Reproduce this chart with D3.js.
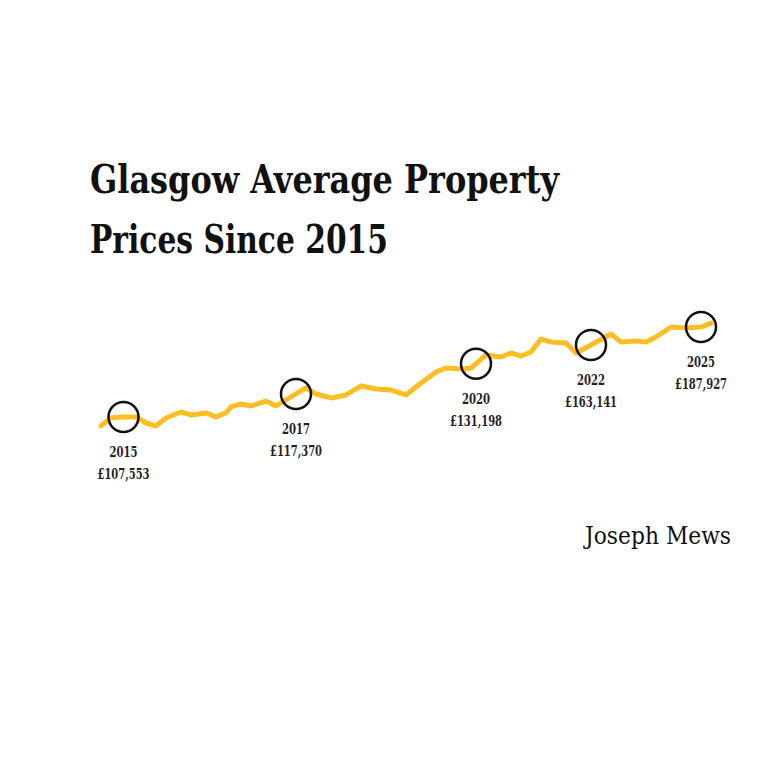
<!DOCTYPE html><html><head><meta charset="utf-8"><script src="https://cdn.jsdelivr.net/npm/d3@7"></script>
<style>body{margin:0;background:#fff}</style></head><body><svg id="c" width="768" height="768"></svg>
<script>
const months=[0,2,4,7,9,11,13,16,18,21,23,25,26,28,30,33,35,37,41,43,46,49,52,55,58,61,64,67,69,72,74,77,80,82,84,86,88,90,93,95,98,102,104,107,109,111,114,117,120,122];
const prices=[99900,106700,107550,107550,102400,99900,106700,111800,109300,111000,107600,111000,116100,118700,117000,121200,117000,122100,132400,127200,123800,126400,134100,131500,130600,126400,136600,146000,149400,148600,149400,160600,158900,162300,159700,163100,174200,171700,170800,162300,169100,178500,171700,172500,171700,176000,184500,183600,184500,187900];
const markYears=["2015","2017","2020","2022","2025"];
const markMonths=[4.5,39,75,98,120];
const markLabels=["£107,553","£117,370","£131,198","£163,141","£187,927"];
const svg=d3.select("#c");
const x=d3.scaleLinear().domain([0,122]).range([101,711]);
const y=d3.scaleLinear().domain([100000,190000]).range([425.8,320.6]);
const font="'DejaVu Serif',serif";
svg.append("text").attr("x",90).attr("y",193).attr("font-family",font).attr("font-weight","bold").attr("font-size",40).attr("textLength",469).attr("lengthAdjust","spacingAndGlyphs").attr("fill","#111").text("Glasgow Average Property");
svg.append("text").attr("x",90).attr("y",253).attr("font-family",font).attr("font-weight","bold").attr("font-size",40).attr("textLength",298).attr("lengthAdjust","spacingAndGlyphs").attr("fill","#111").text("Prices Since 2015");
const data=months.map((m,i)=>({m,v:prices[i]}));
svg.append("path").datum(data).attr("fill","none").attr("stroke","#fbbf24").attr("stroke-width",5).attr("stroke-linejoin","round").attr("stroke-linecap","round")
 .attr("d",d3.line().x(d=>x(d.m)).y(d=>y(d.v)));
const interp=m=>{const i=d3.bisector(d=>d.m).left(data,m);if(i<=0)return data[0].v;const a=data[i-1],b=data[i];return a.v+(b.v-a.v)*(m-a.m)/(b.m-a.m);};
markMonths.forEach((m,i)=>{
 const cx=x(m),cy=y(interp(m));
 svg.append("circle").attr("cx",cx).attr("cy",cy).attr("r",15).attr("fill","none").attr("stroke","#111").attr("stroke-width",2.5);
 svg.append("text").attr("x",cx).attr("y",cy+40).attr("text-anchor","middle").attr("font-family",font).attr("font-weight","bold").attr("font-size",14).attr("textLength",28).attr("lengthAdjust","spacingAndGlyphs").attr("fill","#222").text(markYears[i]);
 svg.append("text").attr("x",cx).attr("y",cy+62).attr("text-anchor","middle").attr("font-family",font).attr("font-weight","bold").attr("font-size",14).attr("textLength",52).attr("lengthAdjust","spacingAndGlyphs").attr("fill","#222").text(markLabels[i]);
});
svg.append("text").attr("x",731).attr("y",544).attr("text-anchor","end").attr("font-family",font).attr("font-size",24).attr("textLength",146).attr("lengthAdjust","spacingAndGlyphs").attr("fill","#111").text("Joseph Mews");
</script></body></html>
